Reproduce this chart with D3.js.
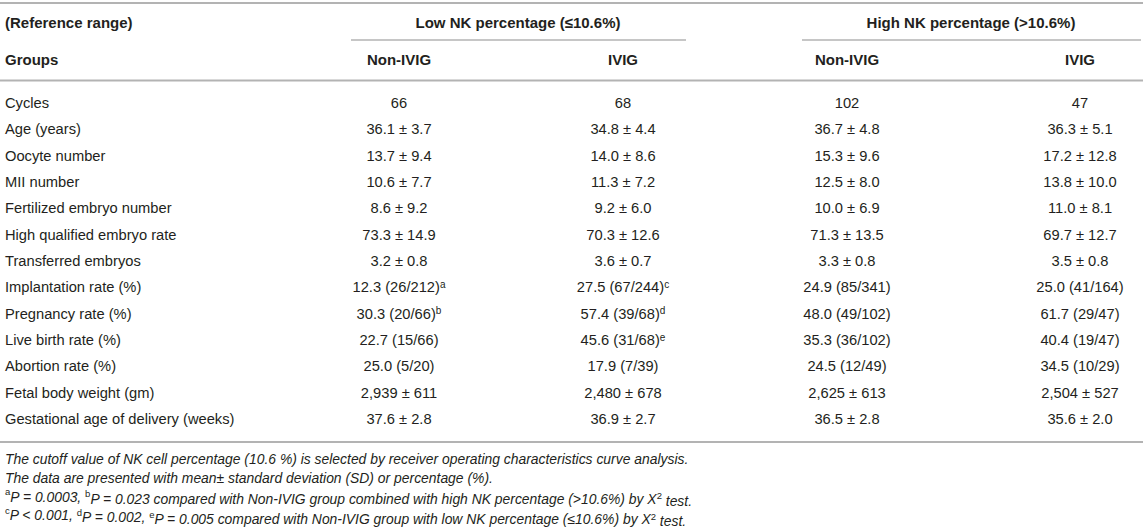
<!DOCTYPE html>
<html>
<head>
<meta charset="utf-8">
<script src="https://cdn.jsdelivr.net/npm/d3@7"></script>
<style>
  body { margin: 0; background: #fff; }
  svg text { font-family: "Liberation Sans", Arial, Helvetica, sans-serif; fill: #231f20; }
</style>
</head>
<body>
<div id="chart"></div>
<script>
// table content
var groups = ["Cycles", "Age (years)", "Oocyte number", "MII number", "Fertilized embryo number",
  "High qualified embryo rate", "Transferred embryos", "Implantation rate (%)", "Pregnancy rate (%)",
  "Live birth rate (%)", "Abortion rate (%)", "Fetal body weight (gm)", "Gestational age of delivery (weeks)"];

var columns = ["lowNon", "lowIvig", "highNon", "highIvig"];
var columnLabels = ["Non-IVIG", "IVIG", "Non-IVIG", "IVIG"];
var rangeLabels = ["Low NK percentage (\u226410.6%)", "High NK percentage (>10.6%)"];

var lowNonIvig = ["66", "36.1 \u00b1 3.7", "13.7 \u00b1 9.4", "10.6 \u00b1 7.7", "8.6 \u00b1 9.2", "73.3 \u00b1 14.9",
  "3.2 \u00b1 0.8", "12.3 (26/212)", "30.3 (20/66)", "22.7 (15/66)", "25.0 (5/20)", "2,939 \u00b1 611", "37.6 \u00b1 2.8"];
var lowIvig = ["68", "34.8 \u00b1 4.4", "14.0 \u00b1 8.6", "11.3 \u00b1 7.2", "9.2 \u00b1 6.0", "70.3 \u00b1 12.6",
  "3.6 \u00b1 0.7", "27.5 (67/244)", "57.4 (39/68)", "45.6 (31/68)", "17.9 (7/39)", "2,480 \u00b1 678", "36.9 \u00b1 2.7"];
var highNonIvig = ["102", "36.7 \u00b1 4.8", "15.3 \u00b1 9.6", "12.5 \u00b1 8.0", "10.0 \u00b1 6.9", "71.3 \u00b1 13.5",
  "3.3 \u00b1 0.8", "24.9 (85/341)", "48.0 (49/102)", "35.3 (36/102)", "24.5 (12/49)", "2,625 \u00b1 613", "36.5 \u00b1 2.8"];
var highIvig = ["47", "36.3 \u00b1 5.1", "17.2 \u00b1 12.8", "13.8 \u00b1 10.0", "11.0 \u00b1 8.1", "69.7 \u00b1 12.7",
  "3.5 \u00b1 0.8", "25.0 (41/164)", "61.7 (29/47)", "40.4 (19/47)", "34.5 (10/29)", "2,504 \u00b1 527", "35.6 \u00b1 2.0"];

// superscript marks per row (lowNonIvig / lowIvig)
var lowNonSup = ["", "", "", "", "", "", "", "a", "b", "", "", "", ""];
var lowIvigSup = ["", "", "", "", "", "", "", "c", "d", "e", "", "", ""];

var footnotes = [
  [{t: "The cutoff value of NK cell percentage (10.6 %) is selected by receiver operating characteristics curve analysis."}],
  [{t: "The data are presented with mean\u00b1 standard deviation (SD) or percentage (%)."}],
  [{t: "a", sup: true}, {t: "P = 0.0003, "}, {t: "b", sup: true}, {t: "P = 0.023 compared with Non-IVIG group combined with high NK percentage (>10.6%) by X"}, {t: "2", sup: true}, {t: " test."}],
  [{t: "c", sup: true}, {t: "P < 0.001, "}, {t: "d", sup: true}, {t: "P = 0.002, "}, {t: "e", sup: true}, {t: "P = 0.005 compared with Non-IVIG group with low NK percentage (\u226410.6%) by X"}, {t: "2", sup: true}, {t: " test."}]
];

var width = 1143, height = 529;
var bodySize = "14.7px", headSize = "15px", noteSize = "13.9px";
var svg = d3.select("#chart").append("svg")
  .attr("width", width)
  .attr("height", height);

var x = d3.scaleOrdinal().domain(columns).range([399, 623, 847, 1080]);
var y = d3.scalePoint().domain(groups).range([103, 419]);
var ruleColor = "#b3b3b3";

// rules
svg.append("line").attr("x1", 0).attr("x2", width).attr("y1", 3).attr("y2", 3)
  .attr("stroke", ruleColor).attr("stroke-width", 2);
svg.append("line").attr("x1", 351).attr("x2", 686).attr("y1", 40).attr("y2", 40)
  .attr("stroke", ruleColor).attr("stroke-width", 1.5);
svg.append("line").attr("x1", 802).attr("x2", 1141).attr("y1", 40).attr("y2", 40)
  .attr("stroke", ruleColor).attr("stroke-width", 1.5);
svg.append("line").attr("x1", 0).attr("x2", width).attr("y1", 80.5).attr("y2", 80.5)
  .attr("stroke", ruleColor).attr("stroke-width", 2);
svg.append("line").attr("x1", 0).attr("x2", width).attr("y1", 442).attr("y2", 442)
  .attr("stroke", ruleColor).attr("stroke-width", 2);

// header row 1
svg.append("text").attr("x", 5).attr("y", 23).attr("dy", "0.35em")
  .style("font-weight", "bold").style("font-size", headSize).text("(Reference range)");
svg.selectAll(".range").data(rangeLabels).enter().append("text")
  .attr("class", "range")
  .attr("x", function(d, i) { return i === 0 ? 518 : 971; })
  .attr("y", 23).attr("dy", "0.35em")
  .attr("text-anchor", "middle")
  .style("font-weight", "bold").style("font-size", headSize)
  .text(function(d) { return d; });

// header row 2
svg.append("text").attr("x", 5).attr("y", 60).attr("dy", "0.35em")
  .style("font-weight", "bold").style("font-size", headSize).text("Groups");
svg.selectAll(".colhead").data(columns).enter().append("text")
  .attr("class", "colhead")
  .attr("x", function(d) { return x(d); })
  .attr("y", 60).attr("dy", "0.35em")
  .attr("text-anchor", "middle")
  .style("font-weight", "bold").style("font-size", headSize)
  .text(function(d, i) { return columnLabels[i]; });

// body rows
var rows = groups.map(function(g, i) {
  return {
    label: g,
    cells: [
      {col: "lowNon", v: lowNonIvig[i], sup: lowNonSup[i]},
      {col: "lowIvig", v: lowIvig[i], sup: lowIvigSup[i]},
      {col: "highNon", v: highNonIvig[i], sup: ""},
      {col: "highIvig", v: highIvig[i], sup: ""}
    ]
  };
});

var row = svg.selectAll(".row").data(rows).enter().append("g")
  .attr("class", "row")
  .attr("transform", function(d) { return "translate(0," + y(d.label) + ")"; });

row.append("text").attr("x", 5).attr("dy", "0.35em")
  .style("font-size", bodySize)
  .text(function(d) { return d.label; });

var cell = row.selectAll(".cell").data(function(d) { return d.cells; }).enter().append("text")
  .attr("class", "cell")
  .attr("x", function(d) { return x(d.col); })
  .attr("dy", "0.35em")
  .attr("text-anchor", "middle")
  .style("font-size", bodySize);
cell.append("tspan").text(function(d) { return d.v; });
cell.filter(function(d) { return d.sup; }).append("tspan")
  .attr("dy", "-0.45em")
  .style("font-size", "10px")
  .text(function(d) { return d.sup; });

// footnotes
var fy = d3.scalePoint().domain(d3.range(footnotes.length)).range([459, 515]);
var note = svg.selectAll(".note").data(footnotes).enter().append("text")
  .attr("class", "note")
  .attr("x", 5)
  .attr("y", function(d, i) { return fy(i); })
  .style("font-size", noteSize)
  .style("font-style", "italic");
note.each(function(parts) {
  var t = d3.select(this);
  var first = t.append("tspan").attr("dy", "0.35em");
  var shifted = false;
  parts.forEach(function(p, j) {
    var sp = j === 0 ? first : t.append("tspan");
    if (p.sup) {
      sp.attr("dy", j === 0 ? "-0.1em" : "-0.45em").style("font-size", "9.5px").style("font-style", "normal");
      shifted = true;
    } else if (shifted) {
      sp.attr("dy", "0.45em");
      shifted = false;
    }
    sp.text(p.t);
  });
});
</script>
</body>
</html>
